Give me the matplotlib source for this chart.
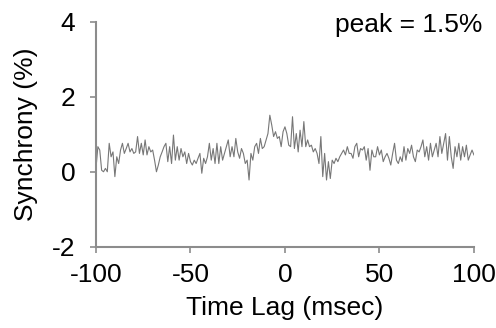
import numpy as np
import matplotlib
matplotlib.use('Agg')
import matplotlib.pyplot as plt

# cross-correlation synchrony, 1 msec bins from -100 to 100
lag = list(range(-100, 101))
sync = [
    0.09, 0.67, 0.58, 0.04, 0.00, 0.09, 0.00, 0.76, 0.40, 0.53,
    -0.13, 0.40, 0.22, 0.58, 0.76, 0.49, 0.62, 0.76, 0.53, 0.62,
    0.49, 0.53, 0.94, 0.49, 0.76, 0.45, 0.85, 0.45, 0.67, 0.53,
    0.58, 0.31, 0.00, 0.18, 0.40, 0.53, 0.67, 0.76, 0.27, 0.67,
    0.22, 0.98, 0.31, 0.67, 0.31, 0.62, 0.40, 0.53, 0.22, 0.49,
    0.27, 0.18, 0.31, 0.22, 0.36, 0.49, -0.04, 0.36, 0.22, 0.40,
    0.76, 0.31, 0.62, 0.22, 0.76, 0.22, 0.67, 0.31, 0.49, 0.67,
    0.85, 0.40, 0.67, 0.40, 0.89, 0.53, 0.36, 0.62, 0.49, 0.22,
    0.31, -0.22, 0.49, 0.31, 0.67, 0.76, 0.49, 0.89, 0.62, 0.67,
    0.85, 1.02, 1.51, 1.25, 0.94, 1.07, 0.89, 0.94, 0.67, 1.07,
    1.20, 1.02, 0.71, 0.67, 1.47, 0.62, 1.02, 0.53, 1.11, 0.67,
    1.34, 0.67, 0.85, 0.67, 0.71, 0.53, 0.62, 0.49, 0.22, 0.94,
    -0.13, 0.49, -0.22, 0.27, -0.18, 0.31, 0.22, 0.36, 0.27, 0.40,
    0.49, 0.58, 0.45, 0.67, 0.49, 0.49, 0.36, 0.67, 0.76, 0.40,
    0.62, 0.58, 0.67, 0.31, 0.62, 0.04, 0.58, 0.40, 0.40, 0.67,
    0.45, 0.58, 0.27, 0.40, 0.49, 0.36, 0.18, 0.49, 0.76, 0.31,
    0.22, 0.40, 0.27, 0.67, 0.31, 0.62, 0.49, 0.71, 0.40, 0.27,
    0.58, 0.53, 0.67, 0.85, 0.40, 0.67, 0.31, 0.76, 0.40, 0.58,
    0.76, 0.40, 0.94, 0.49, 0.76, 1.02, 0.31, 0.94, 0.40, 0.09,
    0.67, 0.40, 0.76, 0.31, 0.67, 0.40, 0.71, 0.31, 0.45, 0.58,
    0.45,
]
x_ticks = [-100, -50, 0, 50, 100]
y_ticks = [-2, 0, 2, 4]

plt.rcParams['font.family'] = ['Liberation Sans', 'DejaVu Sans']
plt.rcParams['axes.unicode_minus'] = False

fig = plt.figure(figsize=(4.96, 3.28), dpi=100)
ax = fig.add_axes([0.1935, 0.248, 0.762, 0.685])

ax.plot(lag, sync, color='#777777', linewidth=0.8)

ax.set_xlim(-100, 100)
ax.set_ylim(-2, 4)
ax.set_xticks(x_ticks)
ax.set_yticks(y_ticks)

for s in ['top', 'right']:
    ax.spines[s].set_visible(False)
for s in ['left', 'bottom']:
    ax.spines[s].set_color('#8c8c8c')
    ax.spines[s].set_linewidth(1.5)

ax.tick_params(axis='both', colors='#8c8c8c', width=1.2, length=4,
               labelsize=19, labelcolor='black')
ax.tick_params(axis='y', pad=11)
ax.tick_params(axis='x', pad=8)

ax.set_xlabel('Time Lag (msec)', fontsize=19, labelpad=6)
ax.set_ylabel('Synchrony (%)', fontsize=19, labelpad=10)

fig.text(0.972, 0.96, 'peak = 1.5%', ha='right', va='top', fontsize=19)

fig.savefig('out.png', dpi=100)
